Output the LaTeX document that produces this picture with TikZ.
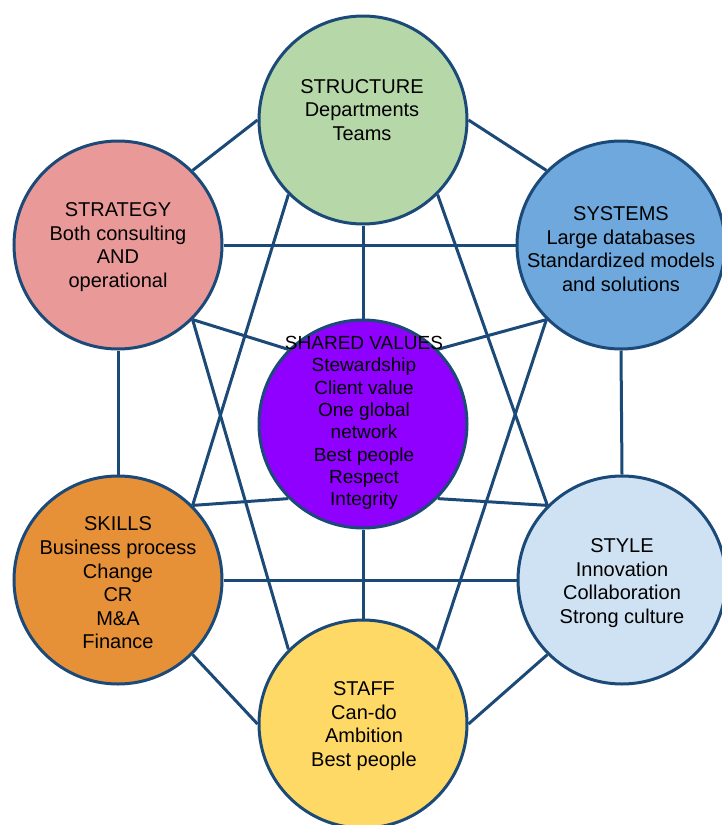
\documentclass[tikz,border=0pt]{standalone}
\usepackage{fontspec}
\setmainfont{Liberation Sans}
\usetikzlibrary{backgrounds}
\definecolor{edgeblue}{HTML}{1B4A78}
\definecolor{fstructure}{HTML}{B6D7A8}
\definecolor{fstrategy}{HTML}{EA9999}
\definecolor{fsystems}{HTML}{6FA8DC}
\definecolor{fshared}{HTML}{8F00FF}
\definecolor{fskills}{HTML}{E69138}
\definecolor{fstyle}{HTML}{CFE2F3}
\definecolor{fstaff}{HTML}{FFD966}
\begin{document}
\begin{tikzpicture}[x=1pt,y=-1pt,
  circ/.style={circle, draw=edgeblue, line width=3pt, minimum size=208pt, inner sep=0pt},
  txt/.style={align=center, font=\fontsize{20}{23.6}\selectfont, text=black, inner sep=0pt},
  stxt/.style={align=center, font=\fontsize{19}{22.3}\selectfont, text=black, inner sep=0pt},
  link/.style={draw=edgeblue, line width=3pt}]
\useasboundingbox (0,0) rectangle (722,825);

% circles
\node[circ, fill=fstructure] (structure) at (363,120) {};
\node[circ, fill=fstrategy]  (strategy)  at (118,245) {};
\node[circ, fill=fsystems]   (systems)   at (621,245) {};
\node[circ, fill=fshared]    (shared)    at (363,424) {};
\node[circ, fill=fskills]    (skills)    at (118,580) {};
\node[circ, fill=fstyle]     (style)     at (622,580) {};
\node[circ, fill=fstaff]     (staff)     at (363,724) {};

% texts
\node[txt] (structure-t) at (362,110) {STRUCTURE\\Departments\\Teams};
\node[txt] (strategy-t)  at (118,247) {STRATEGY\\Both consulting\\AND\\operational};
\node[txt] (systems-t)   at (621,249) {SYSTEMS\\Large databases\\Standardized models\\and solutions};
\node[stxt] (shared-t)   at (364,423) {SHARED VALUES\\Stewardship\\Client value\\One global\\network\\Best people\\Respect\\Integrity};
\node[txt] (skills-t)    at (118,583) {SKILLS\\Business process\\Change\\CR\\M\&A\\Finance};
\node[txt] (style-t)     at (622,583) {STYLE\\Innovation\\Collaboration\\Strong culture};
\node[txt] (staff-t)     at (364,726) {STAFF\\Can-do\\Ambition\\Best people};

% connectors
\begin{scope}[on background layer]
\draw[link] (strategy.north east) -- (structure.west);
\draw[link] (structure.east) -- (systems.north west);
\draw[link] (strategy.east) -- (systems.west);
\draw[link] (strategy.south) -- (skills.north);
\draw[link] (systems.south) -- (style.north);
\draw[link] (skills.east) -- (style.west);
\draw[link] (skills.south east) -- (staff.west);
\draw[link] (staff.east) -- (style.south west);
\draw[link] (structure.south) -- (shared.north);
\draw[link] (shared.south) -- (staff.north);
\draw[link] (structure.south west) -- (skills.north east);
\draw[link] (structure.south east) -- (style.north west);
\draw[link] (strategy.south east) -- (staff.north west);
\draw[link] (systems.south west) -- (staff.north east);
\draw[link] (strategy.south east) -- (shared.north west);
\draw[link] (systems.south west) -- (shared.north east);
\draw[link] (skills.north east) -- (shared.south west);
\draw[link] (style.north west) -- (shared.south east);
\end{scope}
\end{tikzpicture}
\end{document}
